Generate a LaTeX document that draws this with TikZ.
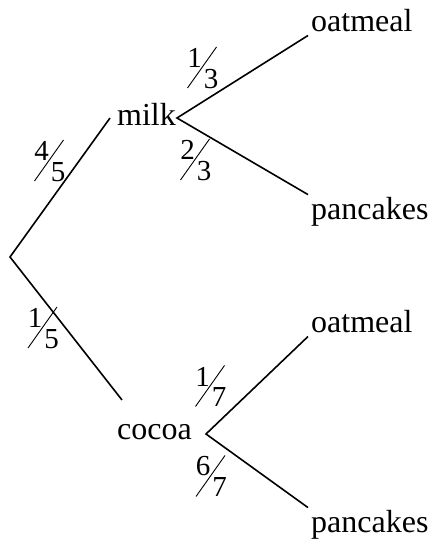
\documentclass[tikz,border=0pt]{standalone}
\usepackage{fontspec}
\setmainfont{Liberation Serif}
\usepackage{tikz}

\begin{document}
\begin{tikzpicture}[
    x=1pt, y=1pt,
    branch/.style={line width=1.6pt},
    slash/.style={line width=0.9pt},
    item/.style={
        anchor=base west,
        inner sep=3pt,
        font=\fontsize{32}{38}\selectfont
    },
    frac/.style={inner sep=0pt, font=\fontsize{29}{34}\selectfont},
    pics/prob/.style 2 args={code={
        \draw[slash] (-14.5,-20.5) -- (14.5,20.5);
        \node[frac] (-num) at (-7.5,9.5) {#1};
        \node[frac] (-den) at (9,-11.5) {#2};
    }}
]
\useasboundingbox (0,0) rectangle (430,540);

% First draw
\coordinate (root) at (10,283);
\node[item, inner sep=0pt] (milk) at (117,414) {milk};
\node[item, inner sep=0pt] (cocoa) at (117,100) {cocoa};
\coordinate (milkin) at (110,422);
\coordinate (milkout) at (177,422);
\coordinate (cocoain) at (122,140);
\coordinate (cocoaout) at (206,106);

% Second draw
\node[item] (oat1) at (308,508) {oatmeal};
\node[item] (pan1) at (308,320) {pancakes};
\node[item] (oat2) at (308,207) {oatmeal};
\node[item] (pan2) at (308,7) {pancakes};

% Branches
\draw[branch] (milkin) -- (root) -- (cocoain);
\draw[branch] (oat1.south west) -- (milkout) -- (pan1.north west);
\draw[branch] (oat2.south west) -- (cocoaout) -- (pan2.north west);

% Probabilities
\pic (p45) at (49,379.5) {prob={4}{5}};
\pic (p15) at (42.5,212.5) {prob={1}{5}};
\pic (p13) at (202,472.5) {prob={1}{3}};
\pic (p23) at (195,380.5) {prob={2}{3}};
\pic (p17) at (210,154) {prob={1}{7}};
\pic (p67) at (210.5,64) {prob={6}{7}};

\end{tikzpicture}
\end{document}
